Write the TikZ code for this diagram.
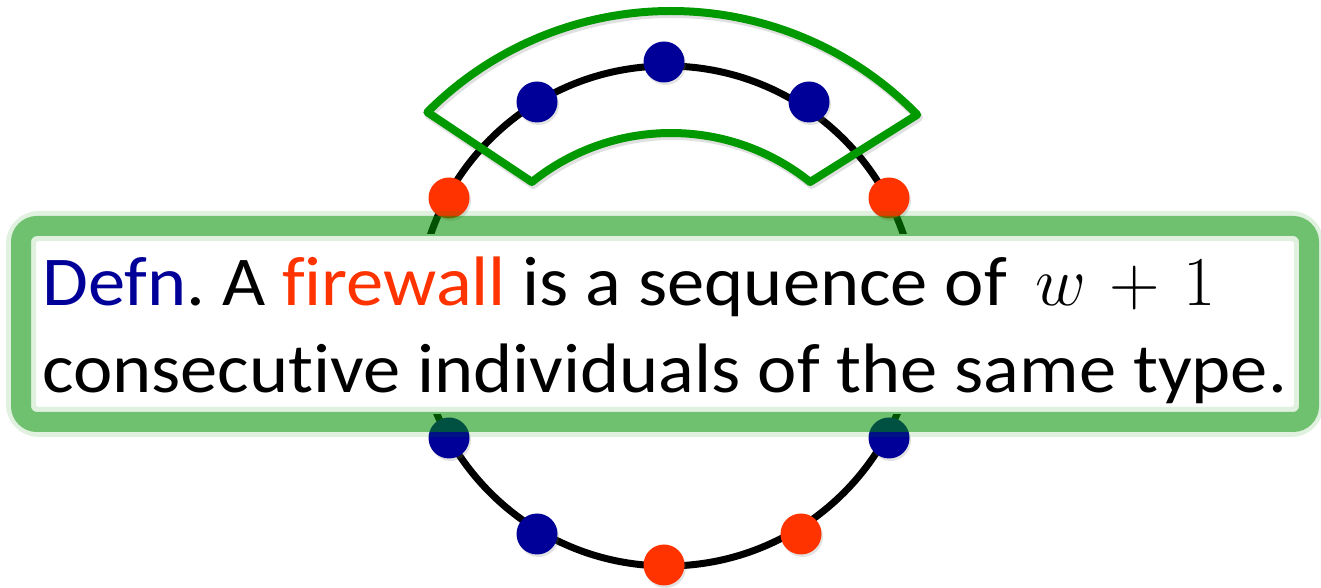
\RequirePackage{fix-cm}
\documentclass[tikz,border=0pt]{standalone}
\usepackage{fontspec}
\setmainfont{Carlito}[Ligatures=NoCommon, FakeStretch=1.065]
\usetikzlibrary{shadows,calc}
\definecolor{dblue}{RGB}{0,0,153}
\definecolor{fred}{RGB}{255,51,0}
\definecolor{sgreen}{RGB}{0,153,0}
\definecolor{ggreen}{RGB}{0,145,0}
\frenchspacing
\tikzset{
  dotbase/.style={circle, inner sep=0pt, minimum size=41pt,
    drop shadow={shadow xshift=1.5pt, shadow yshift=-2.5pt, opacity=0.22}},
  bdot/.style={dotbase, fill=dblue},
  rdot/.style={dotbase, fill=fred},
  ringline/.style={line width=7pt, black},
  sector/.style={line width=8pt, sgreen, line join=round},
  sectorshadow/.style={line width=9pt, black, opacity=0.12, line join=round},
  txt/.style={anchor=base west, inner sep=0pt, font=\fontsize{70}{87}\selectfont},
}
\begin{document}
\begin{tikzpicture}[x=1pt,y=1pt]
\useasboundingbox (0,0) rectangle (1321,588);
\fill[white] (0,0) rectangle (1321,588);
% ring
\coordinate (C) at (667,272);
\draw[ringline] (C) circle[radius=250pt];
% dots
\node[bdot] (d90)  at (664,526) {};
\node[bdot] (d120) at (537,486) {};
\node[bdot] (d60)  at (809,486) {};
\node[rdot] (d150) at (449,390) {};
\node[rdot] (d30)  at (889,390) {};
\node[bdot] (d210) at (449,150) {};
\node[bdot] (d330) at (889,150) {};
\node[bdot] (d240) at (537,54) {};
\node[rdot] (d270) at (664,23) {};
\node[rdot] (d300) at (801,54) {};
% sector (firewall window)
\coordinate (S) at (671,233);
\coordinate (Ss) at (672.5,230.5);
\draw[sectorshadow] ($(Ss)+(135.1:344)$) arc[start angle=135.1, end angle=44.3, radius=344pt]
  -- ($(Ss)+(51.2:222)$) arc[start angle=51.2, end angle=128.8, radius=222pt] -- cycle;
\draw[sector] ($(S)+(135.1:344)$) arc[start angle=135.1, end angle=44.3, radius=344pt]
  -- ($(S)+(51.2:222)$) arc[start angle=51.2, end angle=128.8, radius=222pt] -- cycle;
% definition box
\coordinate (B1) at (21,166);
\coordinate (B2) at (1309,362);
\fill[white] ($(B1)+(8,8)$) rectangle ($(B2)-(8,8)$);
\draw[ggreen, opacity=0.12, line width=30pt, rounded corners=18pt] (B1) rectangle (B2);
\draw[ggreen, opacity=0.5, line width=20pt, rounded corners=16pt] (B1) rectangle (B2);
\node[txt] (l1) at (42,282) {\textcolor{dblue}{Defn}. A \textcolor{fred}{firewall} is a sequence of {\medmuskip=6mu $\,w+1$}};
\node[txt] (l2) at (42,195) {consecutive individuals of the same type.};
\end{tikzpicture}
\end{document}
